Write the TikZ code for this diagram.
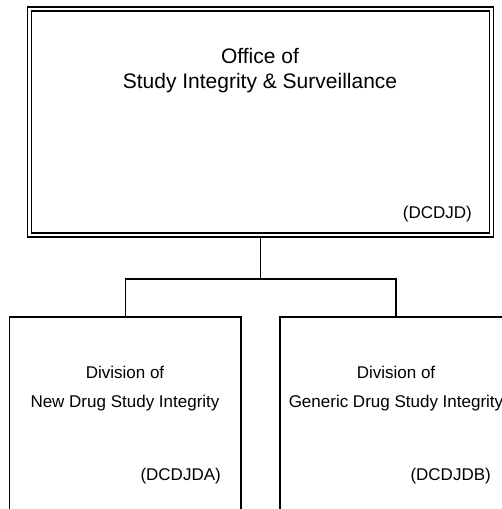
\documentclass[tikz,border=0pt]{standalone}
\usepackage{fontspec}
\setmainfont{Liberation Sans}
\usetikzlibrary{positioning}

\begin{document}
\begin{tikzpicture}[x=1pt, y=-1pt,
    orgbox/.style={draw, line width=1.3pt, inner sep=0pt, outer sep=0.65pt, rectangle},
    officebox/.style={orgbox, double, double distance=2.7pt, outer sep=2.65pt},
    bigtext/.style={font=\fontsize{21}{25}\selectfont, inner sep=0pt, anchor=base},
    smalltext/.style={font=\fontsize{17}{28}\selectfont, inner sep=0pt, anchor=base}]
    \useasboundingbox (0,0) rectangle (502,509);
    \clip (0,0) rectangle (502,509);

    % office and its two divisions
    \node[officebox, minimum width=462pt, minimum height=226pt] (osis) at (260.5,122) {};
    \node[orgbox, minimum width=231.5pt, minimum height=220pt] (dnds) at (125.25,427) {};
    \node[orgbox, minimum width=232pt, minimum height=220pt] (dgds) at (396,427) {};

    % texts
    \node[bigtext] (osisname) at (260,63) {Office of};
    \node[bigtext] (osisname2) at (260,88) {Study Integrity \& Surveillance};
    \node[smalltext, anchor=base east] (osiscode) at (472,218) {(DCDJD)};

    \node[smalltext] (dndsname) at (125,378) {Division of};
    \node[smalltext] (dndsname2) at (125,407) {New Drug Study Integrity};
    \node[smalltext, anchor=base east] (dndscode) at (221,480) {(DCDJDA)};

    \node[smalltext] (dgdsname) at (396,378) {Division of};
    \node[smalltext] (dgdsname2) at (396,407) {Generic Drug Study Integrity};
    \node[smalltext, anchor=base east] (dgdscode) at (491,480) {(DCDJDB)};

    % connectors
    \coordinate (split) at (osis.south |- 0,279);
    \draw[line width=1.3pt] (osis.south) -- (split);
    \draw[line width=1.3pt] (dnds.north) |- (split) -| (dgds.north);
\end{tikzpicture}
\end{document}
